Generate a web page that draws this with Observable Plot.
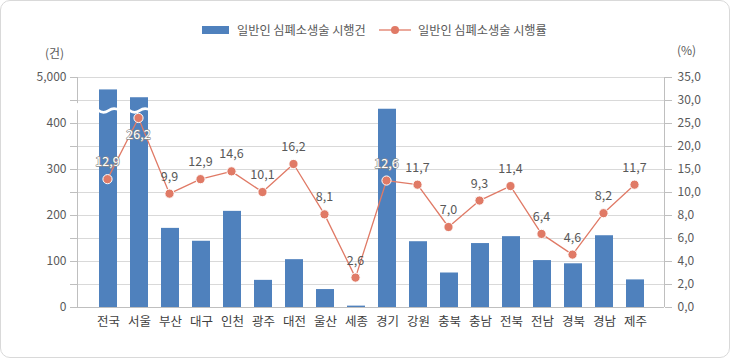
<!DOCTYPE html>
<html>
<head>
<meta charset="utf-8">
<script src="https://cdn.jsdelivr.net/npm/d3@7"></script>
<script src="https://cdn.jsdelivr.net/npm/@observablehq/plot@0.6"></script>
<style>
html, body { margin: 0; padding: 0; background: #fff; }
#wrap { position: relative; width: 730px; height: 358px; overflow: hidden;
  font-family: "Noto Sans CJK KR", "Noto Sans", sans-serif; color: #595959; }
#frame { position: absolute; left: 0; top: 0; width: 730px; height: 358px; box-sizing: border-box;
  border: 1px solid #d9d9d9; border-radius: 10px; pointer-events: none; }
.layer { position: absolute; left: 0; top: 36px; }
.lg { position: absolute; font-size: 12.2px; line-height: 16px; top: 22px; white-space: nowrap; color: #595959; }
.unit { position: absolute; font-size: 12px; line-height: 16px; color: #595959; }
</style>
</head>
<body>
<div id="wrap">
  <div id="legend"></div>
  <div class="unit" style="left:45px; top:45px;">(건)</div>
  <div class="unit" style="left:677px; top:42px;">(%)</div>
  <div id="bars" class="layer"></div>
  <div id="lines" class="layer"></div>
  <div id="frame"></div>
</div>
<script>
// ---- data ----
const regions = ["전국","서울","부산","대구","인천","광주","대전","울산","세종","경기","강원","충북","충남","전북","전남","경북","경남","제주"];
const counts = [4730, 4560, 172, 144, 209, 59, 104, 39, 3, 431, 143, 75, 139, 154, 102, 95, 156, 60];
const rates = [12.9, 26.2, 9.9, 12.9, 14.6, 10.1, 16.2, 8.1, 2.6, 12.6, 11.7, 7.0, 9.3, 11.4, 6.4, 4.6, 8.2, 11.7];
const seriesNames = ["일반인 심폐소생술 시행건", "일반인 심폐소생술 시행률"];
const brokenRegions = ["전국", "서울"];
const breakValue = 428;
const leftTickLabels = [0, 100, 200, 300, 400, 5000];
const leftTickMarks = [0, 50, 100, 150, 200, 250, 300, 350, 400, 4500, 5000];
const rightTicks = [0, 2, 4, 6, 8, 10, 15, 20, 25, 30, 35];
const labelBelow = ["서울"];

// ---- styling / layout ----
const barColor = "#4f81bd";
const lineColor = "#e07a66";
const textColor = "#595959";
const W = 730, H = 322;
const M = {top: 41, right: 66, bottom: 51, left: 77};
const base = H - M.bottom, step = 23;
const font = '"Noto Sans CJK KR", "Noto Sans", sans-serif';

const table = regions.map((region, i) => ({region, count: counts[i], rate: rates[i]}));
const fmt1 = v => v.toFixed(1).replace(".", ",");
const fmtInt = d3.format(",");

const xOpts = {domain: regions, range: [91.2, 650.7], paddingInner: 0.43, paddingOuter: 0.215, axis: null};
const yLeft = {type: "linear", domain: [0, 450, 4500, 5000], range: [base, base - 9 * step, base - 9 * step, base - 10 * step], axis: null};
const yRight = {type: "linear", domain: [0, 10, 35], range: [base, base - 5 * step, base - 10 * step], axis: null};
const gridVals = leftTickMarks.filter(v => v > 0);

// wave symbol for broken bars
const wave = {
  draw(ctx, size) {
    const r = Math.sqrt(size / Math.PI);
    const a = 3.6;
    ctx.moveTo(-r, -0.5);
    ctx.quadraticCurveTo(-r / 2, a, 0, 0);
    ctx.quadraticCurveTo(r / 2, -a, r, -0.5);
  }
};

const common = {width: W, height: H, marginTop: M.top, marginRight: M.right, marginBottom: M.bottom, marginLeft: M.left,
  style: {background: "transparent", fontFamily: font, fontSize: "12px", color: textColor, overflow: "visible"}};

const barPlot = Plot.plot({
  ...common,
  x: xOpts,
  y: yLeft,
  marks: [
    Plot.ruleY(gridVals, {y: d => d, stroke: "#d9d9d9", strokeWidth: 1}),
    Plot.barY(table, {x: "region", y: "count", fill: barColor}),
    Plot.dot(table.filter(d => brokenRegions.includes(d.region)), {x: "region", y: () => breakValue, symbol: wave, r: 10.5, fill: "none", stroke: "white", strokeWidth: 2.6}),
    Plot.ruleY([0], {stroke: "#bfbfbf"}),
    Plot.axisY({anchor: "left", ticks: leftTickMarks, tickFormat: d => leftTickLabels.includes(d) ? fmtInt(d) : "", tickSize: 7, tickPadding: 4, stroke: "#bfbfbf", fill: textColor, fontSize: 12, label: null}),
    Plot.axisX({tickSize: 0, tickPadding: 10, fill: "#404040", fontSize: 12.5, label: null})
  ]
});

const yBarPx = barPlot.scale("y");
const yRatePx = d3.scaleLinear(yRight.domain, yRight.range);
const labelDy = 17;
const onBar = (d, dy) => (yRatePx(d.rate) + dy - 6 > yBarPx.apply(d.count));
const above = table.filter(d => !labelBelow.includes(d.region));
const below = table.filter(d => labelBelow.includes(d.region));
const labelMarks = (rows, dy) => [
  Plot.text(rows.filter(d => !onBar(d, dy)), {x: "region", y: "rate", text: d => fmt1(d.rate), dy, fill: textColor, fontSize: 12.5}),
  Plot.text(rows.filter(d => onBar(d, dy)), {x: "region", y: "rate", text: d => fmt1(d.rate), dy, fill: "white", stroke: "#8a8a8a", strokeWidth: 1.3, paintOrder: "stroke", fontSize: 12.5})
];

const linePlot = Plot.plot({
  ...common,
  x: xOpts,
  y: yRight,
  marks: [
    Plot.lineY(table, {x: "region", y: "rate", stroke: lineColor, strokeWidth: 1.3}),
    Plot.dot(table, {x: "region", y: "rate", r: 4.6, fill: lineColor, stroke: "white", strokeWidth: 1}),
    ...labelMarks(above, -labelDy),
    ...labelMarks(below, labelDy),
    Plot.axisY({anchor: "right", ticks: rightTicks, tickFormat: fmt1, tickSize: 7, tickPadding: 6, stroke: "#bfbfbf", fill: textColor, fontSize: 12, label: null})
  ]
});

// axis lines (left one with a break gap)
const yB = yBarPx.apply(breakValue);
const leftX = M.left + 0.5, rightX = W - M.right + 0.5;
const gl = d3.select(barPlot).append("g").attr("stroke", "#bfbfbf");
gl.append("line").attr("x1", leftX).attr("x2", leftX).attr("y1", yBarPx.apply(5000)).attr("y2", yB - 7);
gl.append("line").attr("x1", leftX).attr("x2", leftX).attr("y1", yB).attr("y2", yBarPx.apply(0));
d3.select(linePlot).append("line").attr("stroke", "#bfbfbf")
  .attr("x1", rightX).attr("x2", rightX).attr("y1", yRatePx(35)).attr("y2", yRatePx(0));

document.getElementById("bars").appendChild(barPlot);
document.getElementById("lines").appendChild(linePlot);

// legend
const lg = document.getElementById("legend");
lg.innerHTML = `
  <div style="position:absolute;left:202px;top:26px;width:27px;height:8px;background:${barColor}"></div>
  <div class="lg" style="left:237px;">${seriesNames[0]}</div>
  <svg style="position:absolute;left:378px;top:24px" width="34" height="12">
    <line x1="1" x2="33" y1="6" y2="6" stroke="${lineColor}" stroke-width="1.3"/>
    <circle cx="17" cy="6" r="4" fill="${lineColor}"/>
  </svg>
  <div class="lg" style="left:418px;">${seriesNames[1]}</div>`;
</script>
</body>
</html>
